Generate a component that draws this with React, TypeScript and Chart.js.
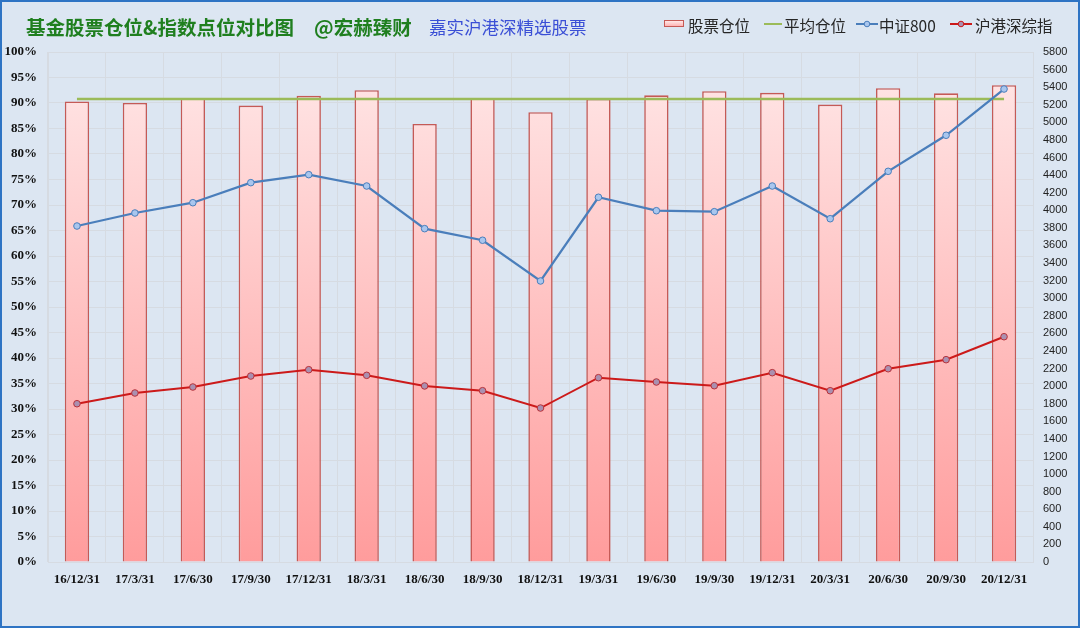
import { useEffect, useRef } from "react";
import { Chart, registerables } from "chart.js";

Chart.register(...registerables);

const LABELS = [
  "16/12/31", "17/3/31", "17/6/30", "17/9/30", "17/12/31", "18/3/31",
  "18/6/30", "18/9/30", "18/12/31", "19/3/31", "19/6/30", "19/9/30",
  "19/12/31", "20/3/31", "20/6/30", "20/9/30", "20/12/31",
];

// 股票仓位 (%)
const STOCK_POS = [
  90.3, 90.0, 90.9, 89.5, 91.4, 92.5, 85.9, 90.9, 88.2,
  90.8, 91.5, 92.3, 92.0, 89.7, 92.9, 91.9, 93.5,
];

// 平均仓位 (%)
const AVG_POS = [
  90.8, 90.8, 90.8, 90.8, 90.8, 90.8, 90.8, 90.8, 90.8,
  90.8, 90.8, 90.8, 90.8, 90.8, 90.8, 90.8, 90.8,
];

// 中证800
const CSI800 = [
  3821, 3969, 4086, 4314, 4405, 4276, 3791, 3659, 3196,
  4148, 3995, 3984, 4276, 3904, 4443, 4853, 5379,
];

// 沪港深综指
const HK_SZ_SH = [
  1800, 1922, 1990, 2115, 2187, 2123, 2002, 1948, 1751,
  2096, 2047, 2005, 2153, 1948, 2198, 2301, 2562,
];

const BG = "#dce6f2";
const GRID = "#d6dbe2";
const BLUE = "#4a7ebb";
const RED = "#cc1a1a";
const GREEN = "#9bbb59";
const BAR_EDGE = "#c55a56";

const LEGEND_FONT = "'Noto Sans CJK SC', 'Noto Sans', sans-serif";

function LineMarker({ color, dot }: { color: string; dot: string }) {
  return (
    <svg width={22} height={10} style={{ display: "block" }}>
      <line x1={0} y1={5} x2={22} y2={5} stroke={color} strokeWidth={2} />
      <circle cx={11} cy={5} r={2.8} fill={dot} stroke={color} strokeWidth={1} />
    </svg>
  );
}

export default function App() {
  const ref = useRef<HTMLCanvasElement>(null);

  useEffect(() => {
    const canvas = ref.current;
    if (!canvas) return;

    const chart = new Chart(canvas, {
      type: "bar",
      data: {
        labels: LABELS,
        datasets: [
          {
            type: "bar",
            label: "股票仓位",
            data: STOCK_POS,
            yAxisID: "y",
            order: 4,
            backgroundColor: (ctx: any) => {
              const area = ctx.chart.chartArea;
              if (!area) return "#ffc4c4";
              const g = ctx.chart.ctx.createLinearGradient(0, area.top, 0, area.bottom);
              g.addColorStop(0, "#ffe8e8");
              g.addColorStop(1, "#ff9c9c");
              return g;
            },
            borderColor: BAR_EDGE,
            borderWidth: 1.6,
            barPercentage: 0.42,
            categoryPercentage: 1,
          },
          {
            type: "line",
            label: "平均仓位",
            data: AVG_POS,
            yAxisID: "y",
            order: 3,
            borderColor: GREEN,
            borderWidth: 2.5,
            pointRadius: 0,
          },
          {
            type: "line",
            label: "中证800",
            data: CSI800,
            yAxisID: "y1",
            order: 2,
            borderColor: BLUE,
            borderWidth: 2.25,
            pointRadius: 3.3,
            pointBackgroundColor: "#a9c6ee",
            pointBorderColor: BLUE,
            pointBorderWidth: 1,
          },
          {
            type: "line",
            label: "沪港深综指",
            data: HK_SZ_SH,
            yAxisID: "y1",
            order: 1,
            borderColor: RED,
            borderWidth: 2,
            pointRadius: 3.3,
            pointBackgroundColor: "#aa90b0",
            pointBorderColor: "#b8323a",
            pointBorderWidth: 1,
          },
        ],
      },
      options: {
        responsive: false,
        animation: false,
        layout: { padding: { top: 50, left: 0, right: 0, bottom: 0 } },
        plugins: {
          legend: { display: false },
          title: { display: false },
          tooltip: { enabled: false },
        },
        scales: {
          x: {
            offset: true,
            grid: { color: GRID, offset: true, drawTicks: false },
            border: { color: GRID },
            ticks: {
              color: "#111",
              padding: 10,
              maxRotation: 0,
              autoSkip: false,
              font: { family: "'Liberation Serif', serif", size: 13, weight: "bold" },
            },
            afterFit: (s: any) => {
              s.height = 64;
            },
          },
          y: {
            position: "left",
            min: 0,
            max: 100,
            grid: { color: GRID, drawTicks: false },
            border: { color: GRID },
            ticks: {
              stepSize: 5,
              padding: 11,
              color: "#111",
              autoSkip: false,
              font: { family: "'Liberation Serif', serif", size: 13, weight: "bold" },
              callback: (v: any) => v + "%",
            },
            afterFit: (s: any) => {
              s.width = 46;
            },
          },
          y1: {
            position: "right",
            min: 0,
            max: 5800,
            grid: { display: false, drawTicks: false },
            border: { display: false },
            ticks: {
              stepSize: 200,
              padding: 10,
              color: "#222",
              autoSkip: false,
              font: { family: "'Liberation Sans', sans-serif", size: 11 },
              callback: (v: any) => String(v),
            },
            afterFit: (s: any) => {
              s.width = 45;
            },
          },
        },
      },
    });
    return () => chart.destroy();
  }, []);

  const textStyle = {
    position: "absolute" as const,
    top: 12,
    fontFamily: LEGEND_FONT,
    fontSize: 15.5,
    lineHeight: "22px",
    color: "#262626",
    whiteSpace: "nowrap" as const,
  };

  return (
    <div
      style={{
        position: "absolute",
        left: 0,
        top: 0,
        width: 1080,
        height: 628,
        boxSizing: "border-box",
        border: "2px solid #2e74c4",
        background: BG,
        overflow: "hidden",
      }}
    >
      <canvas
        ref={ref}
        width={1076}
        height={624}
        style={{ position: "absolute", left: 0, top: 0, width: 1076, height: 624 }}
      />
      <div
        style={{
          position: "absolute",
          left: 24,
          top: 12,
          fontFamily: LEGEND_FONT,
          fontSize: 19.5,
          lineHeight: "26px",
          fontWeight: "bold",
          color: "#1f7f1f",
          whiteSpace: "nowrap",
        }}
      >
        基金股票仓位&amp;指数点位对比图
      </div>
      <div
        style={{
          position: "absolute",
          left: 312,
          top: 12,
          fontFamily: LEGEND_FONT,
          fontSize: 19.5,
          lineHeight: "26px",
          fontWeight: "bold",
          color: "#1f7f1f",
          whiteSpace: "nowrap",
        }}
      >
        @宏赫臻财
      </div>
      <div
        style={{
          position: "absolute",
          left: 427,
          top: 13,
          fontFamily: LEGEND_FONT,
          fontSize: 17.5,
          lineHeight: "24px",
          color: "#3a4fd6",
          whiteSpace: "nowrap",
        }}
      >
        嘉实沪港深精选股票
      </div>

      {/* legend */}
      <div
        style={{
          position: "absolute",
          left: 662,
          top: 18,
          width: 20,
          height: 7,
          boxSizing: "border-box",
          border: `1px solid ${BAR_EDGE}`,
          background: "linear-gradient(#ffe8e8, #ffb4b4)",
        }}
      />
      <div style={{ ...textStyle, left: 686 }}>股票仓位</div>
      <div
        style={{ position: "absolute", left: 762, top: 21, width: 18, height: 2, background: GREEN }}
      />
      <div style={{ ...textStyle, left: 782 }}>平均仓位</div>
      <div style={{ position: "absolute", left: 854, top: 17 }}>
        <LineMarker color={BLUE} dot="#a9c6ee" />
      </div>
      <div style={{ ...textStyle, left: 877 }}>中证800</div>
      <div style={{ position: "absolute", left: 948, top: 17 }}>
        <LineMarker color={RED} dot="#aa90b0" />
      </div>
      <div style={{ ...textStyle, left: 973 }}>沪港深综指</div>
    </div>
  );
}
